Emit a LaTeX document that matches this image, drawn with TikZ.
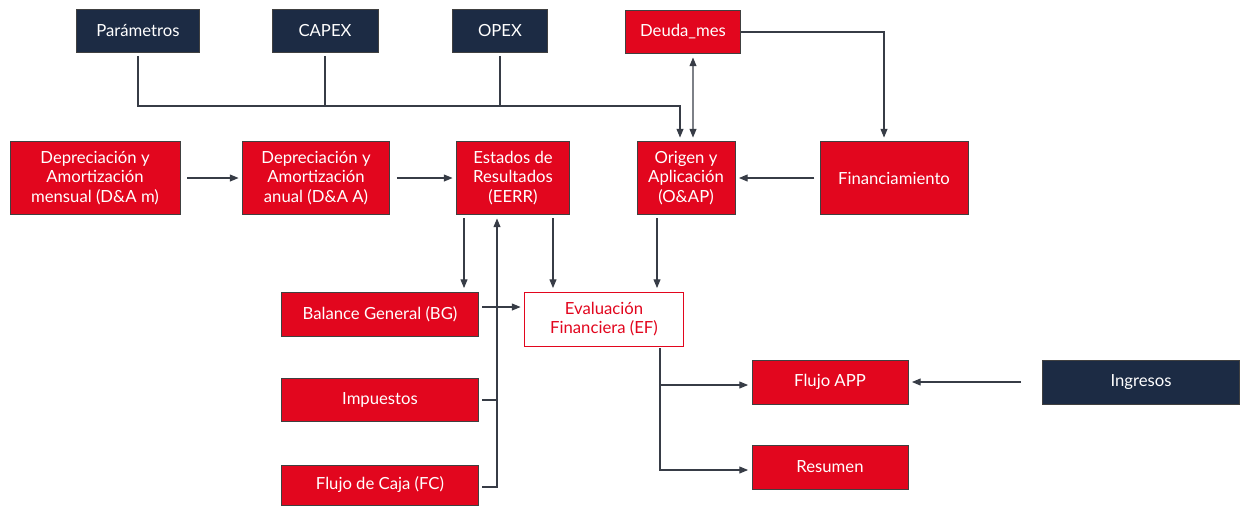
\documentclass[tikz,border=0pt]{standalone}
\usepackage{fontspec}
\setmainfont{Lato}
\usepackage{tikz}
\usetikzlibrary{arrows.meta, positioning, calc}
\definecolor{modelred}{RGB}{226,6,30}
\definecolor{modelnavy}{RGB}{28,43,68}
\definecolor{linegray}{RGB}{55,60,70}

\begin{document}
\begin{tikzpicture}[x=0.02cm, y=-0.02cm,
  redbox/.style={rectangle, draw=black!75, fill=modelred, text=white, line width=0.5pt,
                 font=\fontsize{9.5}{11}\selectfont, align=center, inner sep=2pt},
  navybox/.style={redbox, fill=modelnavy},
  evalbox/.style={redbox, draw=modelred, fill=white, text=modelred},
  ln/.style={draw=linegray, line width=0.6pt},
  arr/.style={ln, -{Triangle[length=5pt, width=4pt]}, shorten >=2pt},
]
  \useasboundingbox (0,0) rectangle (1243,505);

  % inputs
  \node[navybox, minimum width=2.46cm, minimum height=0.86cm] (par)   at (138,31) {Parámetros};
  \node[navybox, minimum width=2.12cm, minimum height=0.86cm] (capex) at (325,31) {CAPEX};
  \node[navybox, minimum width=1.90cm, minimum height=0.86cm] (opex)  at (500,31) {OPEX};
  \node[redbox,  minimum width=2.30cm, minimum height=0.86cm] (deuda) at (683,32) {Deuda\_mes};

  % main row
  \node[redbox, minimum width=3.40cm, minimum height=1.46cm] (dam)  at (95,178)  {Depreciación y\\Amortización\\mensual (D\&A m)};
  \node[redbox, minimum width=2.94cm, minimum height=1.46cm] (daa)  at (316,178) {Depreciación y\\Amortización\\anual (D\&A A)};
  \node[redbox, minimum width=2.26cm, minimum height=1.46cm] (eerr) at (513,178) {Estados de\\Resultados\\(EERR)};
  \node[redbox, minimum width=1.96cm, minimum height=1.46cm] (oap)  at (686,178) {Origen y\\Aplicación\\(O\&AP)};
  \node[redbox, minimum width=2.96cm, minimum height=1.46cm] (fin)  at (894,178) {Financiamiento};

  % lower part
  \node[redbox, minimum width=3.94cm, minimum height=0.88cm] (bg)  at (380,314) {Balance General (BG)};
  \node[redbox, minimum width=3.94cm, minimum height=0.86cm] (imp) at (380,400) {Impuestos};
  \node[redbox, minimum width=3.94cm, minimum height=0.80cm] (fc)  at (380,485) {Flujo de Caja (FC)};
  \node[evalbox, minimum width=3.18cm, minimum height=1.08cm] (ef) at (604,319) {Evaluación\\Financiera (EF)};
  \node[redbox, minimum width=3.12cm, minimum height=0.88cm] (app) at (830,382) {Flujo APP};
  \node[redbox, minimum width=3.12cm, minimum height=0.88cm] (res) at (830,467) {Resumen};
  \node[navybox, minimum width=3.94cm, minimum height=0.88cm] (ing) at (1141,382) {Ingresos};

  % connectors
  \coordinate (bus) at (680,106);
  \draw[arr] ([yshift=-0.06cm]par.south) |- (bus) -- (bus |- oap.north);
  \draw[ln] ([yshift=-0.06cm]capex.south) -- (capex.south |- bus);
  \draw[ln] ([yshift=-0.06cm]opex.south) -- (opex.south |- bus);
  \draw[arr, {Triangle[length=5pt, width=4pt]}-{Triangle[length=5pt, width=4pt]}, shorten <=2pt]
    ([xshift=0.2cm]deuda.south) -- ([xshift=0.14cm]oap.north);
  \draw[arr] (deuda.east) -| ([xshift=-0.2cm]fin.north);

  \draw[arr, shorten <=4pt] (dam.east) -- (daa.west);
  \draw[arr, shorten <=4pt] (daa.east) -- (eerr.west);
  \draw[arr, shorten <=3pt] (fin.west) -- (oap.east);

  \draw[arr, shorten <=2pt] ([xshift=-0.98cm]eerr.south) -- ([xshift=-0.98cm]eerr.south |- bg.north);
  \draw[arr, shorten <=2pt] ([xshift=0.80cm]eerr.south) -- ([xshift=0.80cm]eerr.south |- ef.north);
  \draw[arr, shorten <=2pt] ([xshift=-0.58cm]oap.south) -- ([xshift=-0.58cm]oap.south |- ef.north);

  \coordinate (up) at ([xshift=-0.32cm]eerr.south);
  \draw[arr, shorten <=2pt] ([yshift=-0.04cm]fc.east) -| (up);
  \draw[ln, shorten <=2pt] (imp.east) -- (imp.east -| up);
  \draw[arr, shorten <=2pt] ([yshift=0.14cm]bg.east) -- ([yshift=0.14cm]bg.east -| ef.west);

  \coordinate (efout) at ([xshift=1.12cm, yshift=-0.04cm]ef.south);
  \draw[arr] (efout) |- ([yshift=-0.06cm]app.west);
  \draw[arr] (efout) |- ([yshift=-0.06cm]res.west);
  \draw[arr, shorten <=12pt] (ing.west) -- (app.east);
\end{tikzpicture}
\end{document}
